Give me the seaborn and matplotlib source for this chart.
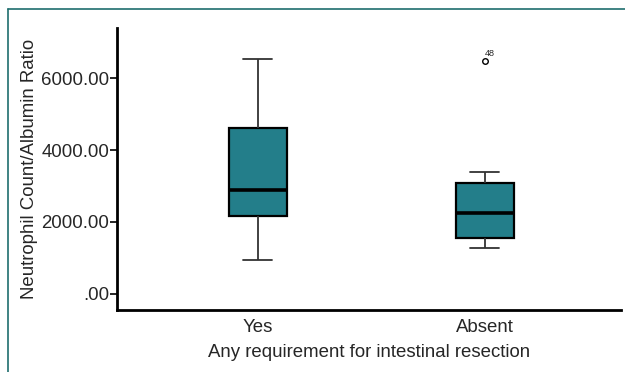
import pandas as pd
import matplotlib
matplotlib.use("Agg")
import matplotlib.pyplot as plt
from matplotlib.lines import Line2D
import seaborn as sns

# Values (raw samples chosen to reproduce the box stats)
categories = ["Yes", "Absent"]
yes_values = [944, 2167, 2889, 4611, 6528]
absent_values = [1278, 1400, 1556, 1900, 2250, 2700, 3083, 3389, 6472]
outlier_label = "48"
outlier_value = 6472

ytick_values = [0, 2000, 4000, 6000]
ytick_labels = [".00", "2000.00", "4000.00", "6000.00"]

df = pd.DataFrame({
    "group": ["Yes"] * len(yes_values) + ["Absent"] * len(absent_values),
    "value": yes_values + absent_values,
})

sns.set_style("ticks")
plt.rcParams["font.family"] = ["Liberation Sans", "DejaVu Sans"]

fig = plt.figure(figsize=(6.25, 3.72), dpi=100)
ax = fig.add_axes([0.1872, 0.1667, 0.8064, 0.758])

sns.boxplot(
    data=df, x="group", y="value", order=categories, ax=ax,
    color="#237E8A", saturation=1, width=0.256,
    linecolor="black", linewidth=1.3,
    boxprops=dict(edgecolor="black", linewidth=1.6),
    whiskerprops=dict(color="#333333", linewidth=1.3),
    capprops=dict(color="#333333", linewidth=1.3),
    medianprops=dict(color="black", linewidth=2.6),
    flierprops=dict(marker="o", markersize=4, markerfacecolor="white",
                    markeredgecolor="black", markeredgewidth=1.0),
)

# case number next to the outlier
ax.annotate(outlier_label, xy=(1, outlier_value), xytext=(0.3, 2.5),
            textcoords="offset points", fontsize=6.5, ha="left", va="bottom")

ax.set_ylim(-450, 7400)
ax.set_xlim(-0.62, 1.6)
ax.set_yticks(ytick_values)
ax.set_yticklabels(ytick_labels)
ax.tick_params(axis="y", length=5, width=1.2, labelsize=13.4, pad=0.5, color="black")
ax.tick_params(axis="x", length=0, labelsize=13.4, pad=6.5)

ax.set_ylabel("Neutrophil Count/Albumin Ratio", fontsize=13.4, labelpad=2)
ax.set_xlabel("Any requirement for intestinal resection", fontsize=13.4, labelpad=6)

sns.despine(ax=ax)
for side in ["left", "bottom"]:
    ax.spines[side].set_linewidth(2)
    ax.spines[side].set_color("black")

# teal frame lines on the left and top of the picture
frame_color = "#1F6E6E"
fig.add_artist(Line2D([8 / 625, 8 / 625], [0, 1 - 9 / 372], color=frame_color, lw=1.2))
fig.add_artist(Line2D([8 / 625, 1], [1 - 9 / 372, 1 - 9 / 372], color=frame_color, lw=1.2))

fig.savefig("out.png", dpi=100)
plt.close(fig)
